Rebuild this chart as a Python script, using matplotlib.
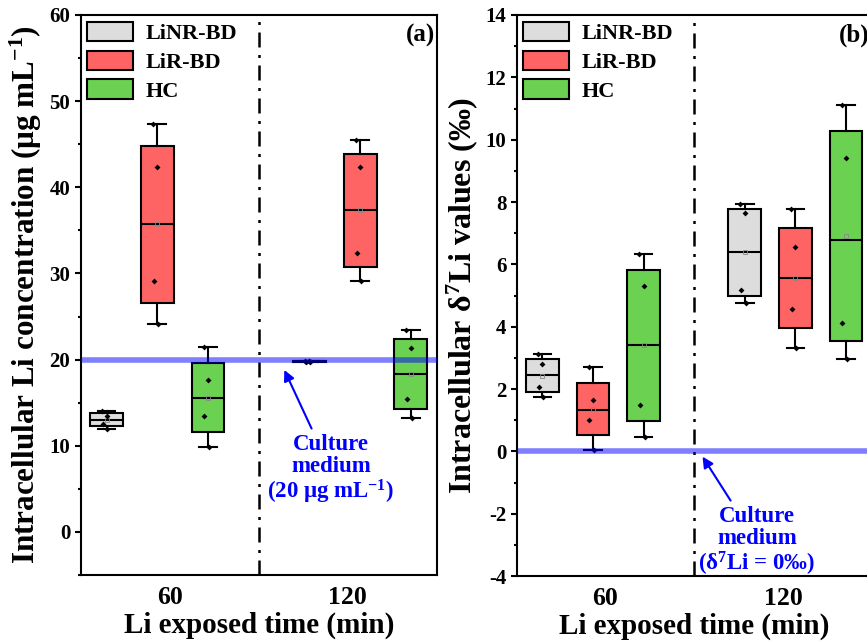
import numpy as np
import matplotlib
matplotlib.use("Agg")
import matplotlib.pyplot as plt
from matplotlib.patches import Patch
from matplotlib.ticker import MultipleLocator

plt.rcParams['font.family'] = ['Liberation Serif', 'DejaVu Serif']
plt.rcParams['font.weight'] = 'bold'
plt.rcParams['axes.labelweight'] = 'bold'
plt.rcParams['mathtext.fontset'] = 'custom'
plt.rcParams['mathtext.rm'] = 'Liberation Serif:bold'
plt.rcParams['mathtext.it'] = 'Liberation Serif:italic:bold'
plt.rcParams['mathtext.bf'] = 'Liberation Serif:bold'
plt.rcParams['axes.unicode_minus'] = False

groups = ["LiNR-BD", "LiR-BD", "HC"]
colors = ["#dddddd", "#ff6464", "#6bd150"]
times = ["60", "120"]

# four replicates per box, order = groups
conc_60 = [[11.93, 12.57, 13.44, 14.06], [24.1, 29.1, 42.3, 47.4], [9.8, 13.5, 17.6, 21.5]]
conc_120 = [[19.72, 19.78, 19.82, 19.88], [29.1, 32.4, 42.3, 45.5], [13.2, 15.4, 21.3, 23.4]]
d7li_60 = [[1.75, 2.08, 2.79, 3.11], [0.04, 1.01, 1.64, 2.72], [0.47, 1.48, 5.32, 6.33]]
d7li_120 = [[4.77, 5.18, 7.64, 7.94], [3.31, 4.58, 6.56, 7.77], [2.95, 4.13, 9.42, 11.12]]

conc_medium = 20
d7li_medium = 0

group_pos = [0.93, 2.07]
offsets = [-0.285, 0.0, 0.285]
jitter = np.array([0.005, -0.02, 0.0, -0.025])


def box_stats(vals):
    v = np.sort(np.asarray(vals))
    q1, med, q3 = np.percentile(v, [25, 50, 75], method="hazen")
    return dict(med=med, q1=q1, q3=q3, whislo=v.min(), whishi=v.max(),
                mean=v.mean(), fliers=[])


def draw_panel(ax, data_by_time, medium, ylim, major, minor, ylabel, ylabel_size, tag):
    for t, data in enumerate(data_by_time):
        for k, vals in enumerate(data):
            x = group_pos[t] + offsets[k]
            ax.bxp([box_stats(vals)], positions=[x], widths=0.185, capwidths=[0.1],
                   patch_artist=True, showmeans=True, manage_ticks=False,
                   boxprops=dict(facecolor=colors[k], edgecolor="black", linewidth=1.5),
                   medianprops=dict(color="black", linewidth=1.5),
                   whiskerprops=dict(color="black", linewidth=1.5),
                   capprops=dict(color="black", linewidth=1.5),
                   meanprops=dict(marker="s", markersize=3, markerfacecolor="none",
                                  markeredgecolor="#888888", markeredgewidth=0.6))
            ax.scatter(x + jitter, np.sort(vals), marker="D", s=9, color="black",
                       zorder=4, linewidths=0)
    ax.axhline(medium, color="blue", alpha=0.5, lw=4, zorder=5)
    ax.axvline(1.5, color="black", lw=1.8, ls=(0, (6, 3, 1.2, 3)), zorder=1)

    ax.set_xlim(0.5, 2.5)
    ax.set_ylim(*ylim)
    ax.set_xticks([1, 2])
    ax.set_xticklabels(times, fontsize=18.5)
    ax.tick_params(axis="x", length=0, pad=8)
    ax.yaxis.set_major_locator(MultipleLocator(major))
    ax.yaxis.set_minor_locator(MultipleLocator(minor))
    ax.tick_params(axis="y", which="major", length=4.5, width=1.5, labelsize=15, pad=3)
    ax.tick_params(axis="y", which="minor", length=2.5, width=1.5)
    for s in ax.spines.values():
        s.set_linewidth(1.5)
    ax.set_xlabel("Li exposed time (min)", fontsize=21, labelpad=2)
    ax.set_ylabel(ylabel, fontsize=ylabel_size)
    ax.yaxis.set_label_coords(-0.104, 0.5)
    ax.text(0.995, 0.964, tag, transform=ax.transAxes, ha="right", va="center",
            fontsize=18, fontweight="bold")

    handles = [Patch(facecolor=c, edgecolor="black", linewidth=1.5, label=g)
               for g, c in zip(groups, colors)]
    ax.legend(handles=handles, loc="upper left", frameon=False, fontsize=16,
              borderpad=0, borderaxespad=0.3, handlelength=2.07, handleheight=0.95,
              handletextpad=0.55, labelspacing=0.3)


fig = plt.figure(figsize=(8.67, 6.44), dpi=100)
ax1 = fig.add_axes([80.7 / 867, 1 - 575 / 644, 356 / 867, 560 / 644])
ax2 = fig.add_axes([516.7 / 867, 1 - 576 / 644, 355 / 867, 561 / 644])

draw_panel(ax1, [conc_60, conc_120], conc_medium, (-5, 60), 10, 5,
           r"Intracellular Li concentration (μg mL$^{-1}$)", 22.4, "(a)")
draw_panel(ax2, [d7li_60, d7li_120], d7li_medium, (-4, 14), 2, 1,
           r"Intracellular δ$^{7}$Li values (‰)", 23, "(b)")

ax1.annotate("Culture\nmedium\n(20 μg mL$^{-1}$)", xy=(1.644, 18.8), xytext=(1.905, 7.2),
             ha="center", va="center", color="blue", fontsize=16.5, fontweight="bold",
             linespacing=1.05,
             arrowprops=dict(arrowstyle="-|>", color="blue", lw=1.5, mutation_scale=16,
                             shrinkA=2, shrinkB=0))
ax2.annotate("Culture\nmedium\n(δ$^{7}$Li = 0‰)", xy=(1.547, -0.17), xytext=(1.853, -2.9),
             ha="center", va="center", color="blue", fontsize=16.5, fontweight="bold",
             linespacing=1.05,
             arrowprops=dict(arrowstyle="-|>", color="blue", lw=1.5, mutation_scale=16,
                             shrinkA=2, shrinkB=0))

fig.savefig("out.png", dpi=100)
